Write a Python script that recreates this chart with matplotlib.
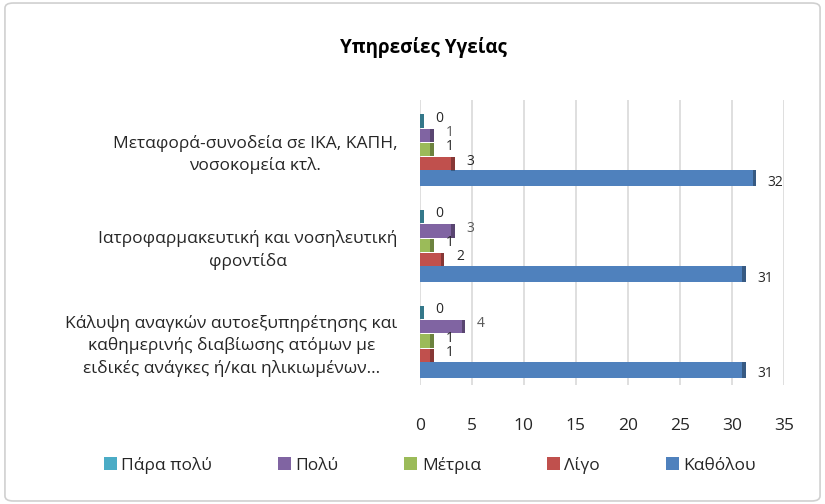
import matplotlib.pyplot as plt
from matplotlib.patches import FancyBboxPatch

plt.rcParams['font.family'] = ['Open Sans', 'DejaVu Sans']

# data (top category last so it's drawn on top)
categories = ['Κάλυψη αναγκών αυτοεξυπηρέτησης και\nκαθημερινής διαβίωσης ατόμων με\nειδικές ανάγκες ή/και ηλικιωμένων…',
              'Ιατροφαρμακευτική και νοσηλευτική\nφροντίδα',
              'Μεταφορά-συνοδεία σε ΙΚΑ, ΚΑΠΗ,\nνοσοκομεία κτλ.']
series = ['Πάρα πολύ', 'Πολύ', 'Μέτρια', 'Λίγο', 'Καθόλου']
para_poli = [0, 0, 0]
poli = [4, 3, 1]
metria = [1, 1, 1]
ligo = [1, 2, 3]
katholou = [31, 31, 32]
values = [para_poli, poli, metria, ligo, katholou]
colors = ['#4BACC6', '#8064A2', '#9BBB59', '#C0504D', '#4F81BD']
label_colors = ['#262626', '#595959', '#262626', '#262626', '#262626']
offsets = [0.3, 0.15, 0.0, -0.15, -0.3]

fig = plt.figure(figsize=(8.25, 5.04), dpi=100)
ax = fig.add_axes([0.509, 0.236, 0.441, 0.566])

# chart border
fig.patches.append(FancyBboxPatch((0.006, 0.006), 0.988, 0.988, boxstyle='round,pad=0,rounding_size=0.01',
                                  transform=fig.transFigure, fill=False, edgecolor='#D0D0D0', linewidth=1.2))

ypos = list(range(len(categories)))
for vals, name, c, lc, off in zip(values, series, colors, label_colors, offsets):
    ys = [y + off for y in ypos]
    h = 0.17 if name == 'Καθόλου' else 0.14
    ax.barh(ys, vals, height=h, color=c, label=name, zorder=3)
    # darker end face for the 3d look
    ax.barh(ys, [0.35] * len(vals), left=vals, height=h, color=c, zorder=3)
    ax.barh(ys, [0.35] * len(vals), left=vals, height=h, color='black', alpha=0.3, zorder=4)
    for y, v in zip(ys, vals):
        ax.annotate(str(v), (v, y), xytext=(11, -3 if name == 'Καθόλου' else 2), textcoords='offset points',
                    ha='left', va='center', fontsize=10, color=lc)

ax.set_xlim(0, 35)
ax.set_ylim(-0.46, 2.52)
ax.set_xticks(range(0, 36, 5))
ax.set_yticks(ypos)
ax.set_yticklabels(categories, fontsize=12.5, color='#262626', linespacing=1.45)
for t in ax.get_yticklabels():
    t.set_multialignment('center')
ax.tick_params(axis='y', length=0, pad=16)
ax.tick_params(axis='x', length=0, pad=24, labelsize=12.5, labelcolor='#262626')
ax.grid(axis='x', color='#D9D9D9', linewidth=1.2, zorder=0)
for s in ax.spines.values():
    s.set_visible(False)

fig.text(0.513, 0.905, 'Υπηρεσίες Υγείας', ha='center', va='center', fontsize=13.5, fontweight='bold', color='black')

handles, labels = ax.get_legend_handles_labels()
fig.legend(handles, labels, loc='center', bbox_to_anchor=(0.521, 0.077), ncol=5, frameon=False,
           fontsize=12.5, handlelength=0.75, handleheight=0.75, handletextpad=0.25, columnspacing=3.8,
           labelcolor='#262626')

fig.savefig('out.png', dpi=100)
